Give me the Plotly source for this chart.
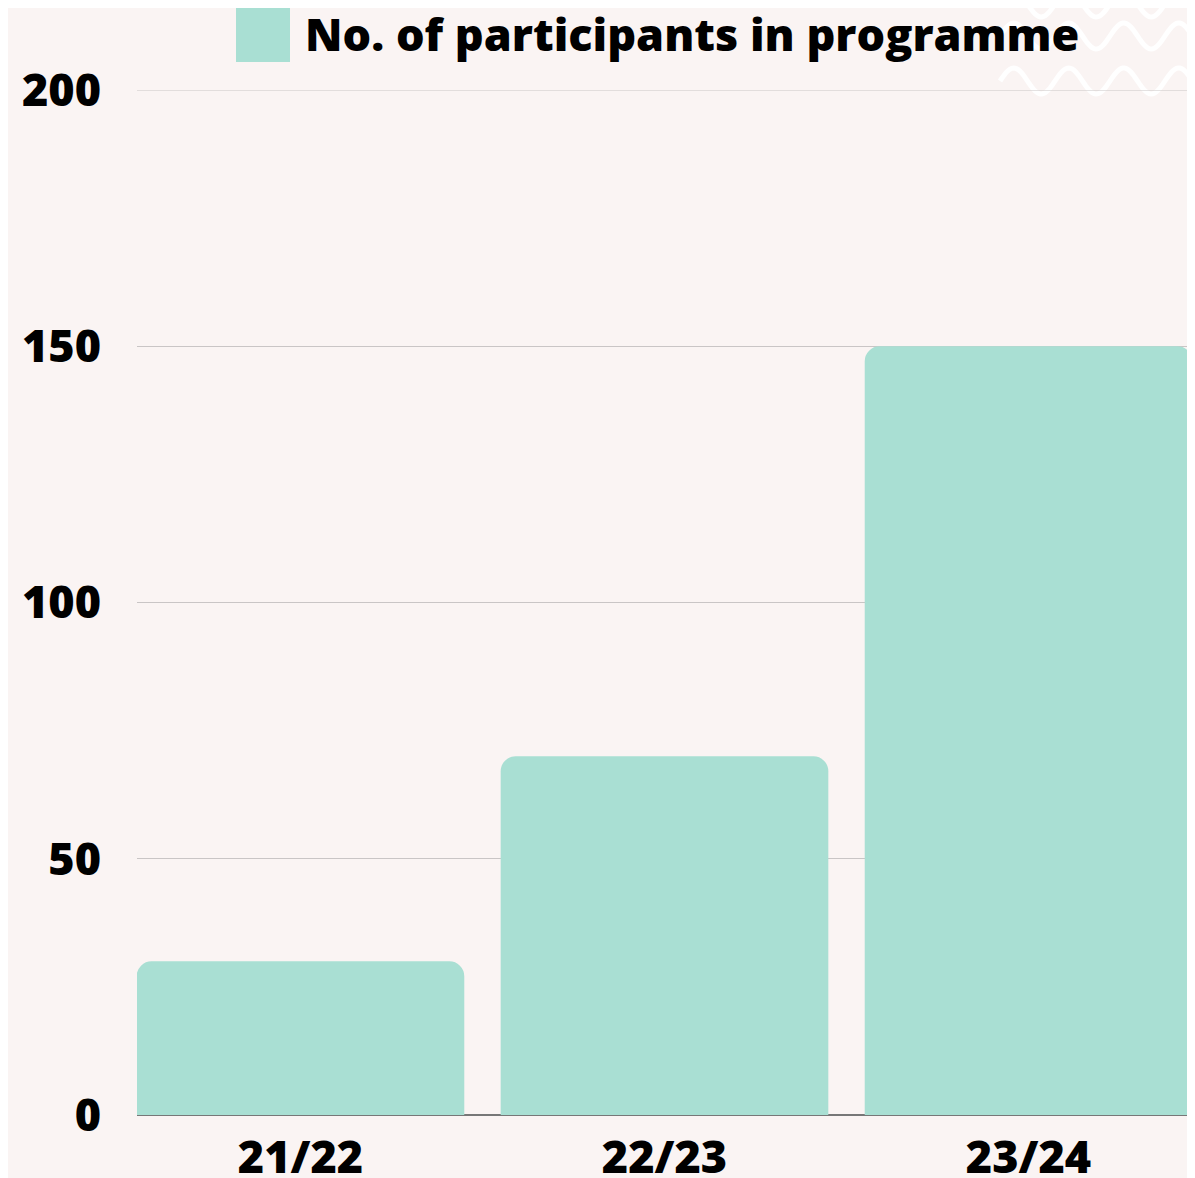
import numpy as np
import plotly.graph_objects as go

categories = ["21/22", "22/23", "23/24"]
participants = [30, 70, 150]
series_name = "No. of participants in programme"
y_ticks = [0, 50, 100, 150, 200]

BG = "#FAF4F3"
BAR = "#A9DFD3"
FONT = "Open Sans"

OFF = 8  # page body margin
W, H = 1195 - OFF, 1178 - OFF
ml, mt = 137 - OFF, 90 - OFF
mr = W - (1192 - OFF)
mb = H - (1115 - OFF)

fig = go.Figure()
fig.add_trace(go.Bar(
    x=categories, y=participants, name=series_name,
    marker=dict(color=BAR, cornerradius=15, line=dict(width=0)),
    showlegend=False,
))


def px2paper(px, py):
    px -= OFF
    py -= OFF
    return (px - ml) / (W - ml - mr), (H - mb - py) / (H - mt - mb)


# decorative waves (top-right)
shapes = []
for yc in [4, 36, 81]:
    xs = np.linspace(1000, 1200, 120)
    ys = yc + 13 * np.sin((xs - 1000) / 55 * 2 * np.pi + np.pi)
    pts = []
    for i, (px, py) in enumerate(zip(xs, ys)):
        xp, yp = px2paper(px, py)
        pts.append(("M" if i == 0 else "L") + f"{xp:.5f},{yp:.5f}")
    shapes.append(dict(type="path", xref="paper", yref="paper", path=" ".join(pts),
                       line=dict(color="rgba(255,255,255,0.95)", width=5), layer="below"))

# top gridline (drawn explicitly at the axis edge)
shapes.append(dict(type="line", xref="paper", yref="y", x0=0, x1=1, y0=200, y1=200,
                   line=dict(color="#C9C5C5", width=1), layer="below"))

# legend swatch
x0, y0 = px2paper(236, 62)
x1, y1 = px2paper(290, 8)
shapes.append(dict(type="rect", xref="paper", yref="paper", x0=x0, y0=y0, x1=x1, y1=y1,
                   fillcolor=BAR, line=dict(width=0), layer="above"))

tx, ty = px2paper(303, 34)
annotations = [dict(xref="paper", yref="paper", x=tx, y=ty, xanchor="left", yanchor="middle",
                    text=series_name, showarrow=False,
                    font=dict(family=FONT, size=45, weight=800, color="#000000"))]

tickfont = dict(family=FONT, size=45, weight=800, color="#000000")

fig.update_layout(
    width=W, height=H,
    margin=dict(l=ml, r=mr, t=mt, b=mb),
    paper_bgcolor=BG, plot_bgcolor=BG,
    bargap=0.1,
    shapes=shapes, annotations=annotations,
    font=dict(family=FONT, color="#000000"),
    xaxis=dict(range=[-0.449, 2.449], showgrid=False, showline=False, automargin=False,
               tickfont=tickfont,
               ticks="outside", ticklen=3, tickcolor="rgba(0,0,0,0)", fixedrange=True),
    yaxis=dict(range=[0, 200], tickvals=y_ticks, showgrid=True, gridcolor="#C9C5C5", gridwidth=1,
               zeroline=True, zerolinecolor="#777777", zerolinewidth=1.5, showline=False,
               automargin=False, tickfont=tickfont,
               ticks="outside", ticklen=26, tickcolor="rgba(0,0,0,0)"),
)

fig.write_html("out.html")
